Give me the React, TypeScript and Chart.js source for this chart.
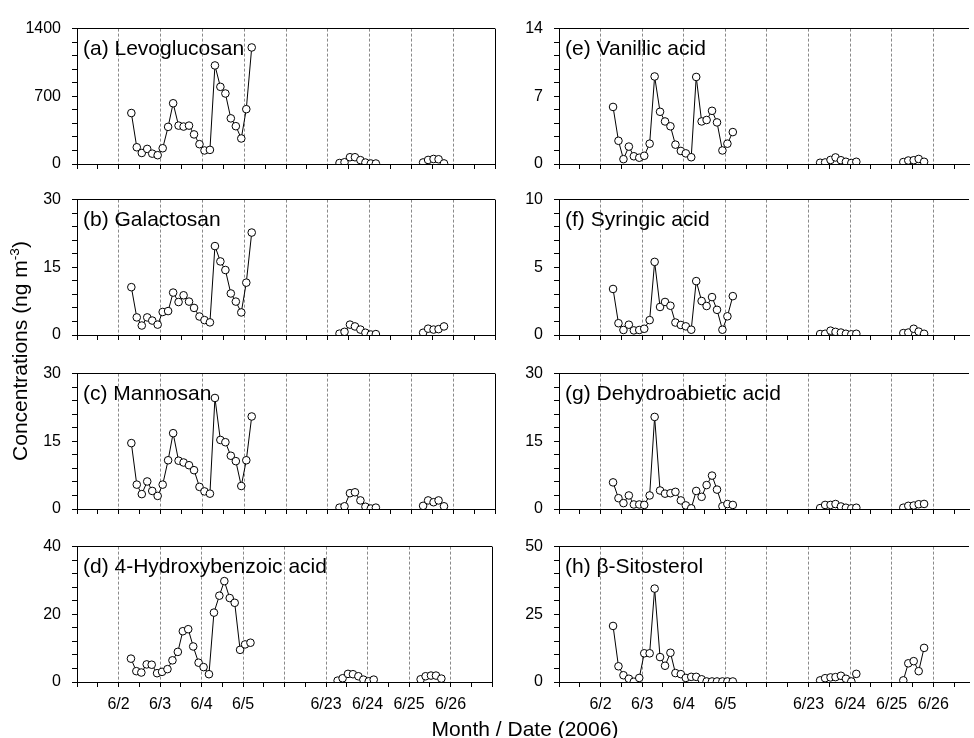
import React, { useEffect, useRef } from 'react';
import { Chart, registerables } from 'chart.js';

Chart.register(...registerables);

const FONT = "'Liberation Sans', Arial, Helvetica, sans-serif";

// Sampling times, in "day index" units (0 = 6/2, 1 = 6/3, 2 = 6/4, 3 = 6/5, 4 = break, 5 = 6/23 ... 8 = 6/26)
const sampleDays1 = [0.30, 0.43, 0.55, 0.68, 0.80, 0.93, 1.05, 1.18, 1.30, 1.43, 1.55, 1.68,
  1.80, 1.93, 2.05, 2.18, 2.30, 2.43, 2.55, 2.68, 2.80, 2.93, 3.05, 3.18];
const sampleDays2 = [5.28, 5.40, 5.53, 5.65, 5.78, 5.90, 6.03, 6.15];
const sampleDays3 = [7.28, 7.40, 7.53, 7.65, 7.78];

// x tick labels by day index
const dayTickValues = [0, 1, 2, 3, 5, 6, 7, 8];
const dayTickLabels = ['6/2', '6/3', '6/4', '6/5', '6/23', '6/24', '6/25', '6/26'];

// Series (24 + 8 + 5 values)
const levoglucosan = [527, 173, 114, 156, 107, 91, 163, 384, 628, 397, 387, 397, 306, 205, 140, 146, 1019, 798, 729, 472, 391, 264, 567, 1205,
  10, 18, 70, 70, 40, 15, 5, 5,
  16, 42, 52, 49, 6];
const galactosan = [10.6, 3.9, 2.1, 3.9, 3.2, 2.3, 5.1, 5.3, 9.4, 7.3, 8.8, 7.4, 6.0, 4.1, 3.3, 2.8, 19.7, 16.3, 14.4, 9.2, 7.4, 5.0, 11.6, 22.7,
  0.3, 0.7, 2.3, 1.9, 1.2, 0.5, 0.1, 0.2,
  0.5, 1.4, 1.2, 1.3, 1.9];
const mannosan = [14.6, 5.4, 3.3, 6.1, 4.0, 2.9, 5.4, 10.8, 16.8, 10.7, 10.3, 9.7, 8.6, 4.9, 3.9, 3.4, 24.6, 15.3, 14.8, 11.8, 10.6, 5.1, 10.8, 20.5,
  0.3, 0.6, 3.5, 3.7, 1.9, 0.5, 0.1, 0.3,
  0.7, 1.9, 1.5, 1.9, 0.6];
const hydroxybenzoic = [6.9, 3.2, 2.8, 5.2, 5.1, 2.6, 3.0, 3.8, 6.4, 8.9, 15.0, 15.6, 10.5, 5.7, 4.4, 2.3, 20.5, 25.5, 29.8, 24.8, 23.4, 9.5, 11.1, 11.6,
  0.4, 1.1, 2.4, 2.3, 1.7, 0.7, 0.2, 0.7,
  0.8, 1.7, 1.9, 1.9, 1.0];
const vanillic = [5.9, 2.4, 0.5, 1.8, 0.8, 0.65, 0.85, 2.1, 9.05, 5.4, 4.4, 3.9, 2.0, 1.35, 1.1, 0.7, 9.0, 4.4, 4.55, 5.5, 4.3, 1.4, 2.1, 3.3,
  0.13, 0.16, 0.42, 0.68, 0.39, 0.23, 0.1, 0.23,
  0.2, 0.36, 0.39, 0.52, 0.23];
const syringic = [3.4, 0.87, 0.37, 0.76, 0.34, 0.37, 0.46, 1.1, 5.4, 2.07, 2.44, 2.16, 0.92, 0.74, 0.64, 0.39, 3.98, 2.51, 2.14, 2.8, 1.86, 0.39, 1.38, 2.87,
  0.07, 0.09, 0.32, 0.23, 0.18, 0.09, 0.05, 0.09,
  0.14, 0.18, 0.46, 0.25, 0.09];
const dehydroabietic = [5.9, 2.4, 1.3, 3.0, 1.0, 1.0, 0.9, 3.0, 20.4, 4.1, 3.4, 3.5, 3.8, 1.9, 0.8, 0.15, 4.0, 2.7, 5.3, 7.4, 4.3, 0.6, 1.1, 0.9,
  0.2, 0.9, 0.9, 1.1, 0.56, 0.28, 0.14, 0.28,
  0.28, 0.7, 0.77, 1.05, 1.12];
const sitosterol = [20.7, 5.8, 2.5, 1.2, 0.1, 1.5, 10.6, 10.6, 34.5, 9.2, 6.0, 10.8, 3.3, 2.9, 1.5, 1.9, 1.9, 1.0, 0.2, 0.2, 0.2, 0.2, 0.2, 0.2,
  0.6, 1.4, 1.7, 1.8, 2.3, 1.2, 0.2, 3.0,
  0.6, 6.9, 7.7, 4.0, 12.6];

const panelLabels = ['(a) Levoglucosan', '(b) Galactosan', '(c) Mannosan', '(d) 4-Hydroxybenzoic acid',
  '(e) Vanillic acid', '(f) Syringic acid', '(g) Dehydroabietic acid', '(h) β-Sitosterol'];
const panelSeries = [levoglucosan, galactosan, mannosan, hydroxybenzoic, vanillic, syringic, dehydroabietic, sitosterol];
const panelYMax = [1400, 30, 30, 40, 14, 10, 30, 50];

// layout
const ROW_TOPS = [20, 191, 365, 538];
const PLOT_H = 144;
const PAD_TOP = 12;
const X_AXIS_H = 36;
const COLS = [
  { canvasLeft: 0, canvasWidth: 500, yAxisWidth: 77, padRight: 2, xMax: 9 },
  { canvasLeft: 487, canvasWidth: 487, yAxisWidth: 72, padRight: 0, xMax: 8.86 },
];

function buildPoints(values: number[]) {
  const pts: { x: number; y: number | null }[] = [];
  let k = 0;
  [sampleDays1, sampleDays2, sampleDays3].forEach((days, g) => {
    if (g > 0) pts.push({ x: days[0] - 0.5, y: null });
    days.forEach((d) => pts.push({ x: d, y: values[k++] }));
  });
  return pts;
}

function fmt(v: number) {
  return String(Math.round(v * 1000) / 1000);
}

type PanelProps = {
  label: string;
  values: number[];
  yMax: number;
  col: number;
  row: number;
};

function Panel({ label, values, yMax, col, row }: PanelProps) {
  const ref = useRef<HTMLCanvasElement | null>(null);
  const c = COLS[col];
  const top = ROW_TOPS[row] - PAD_TOP;
  const height = PAD_TOP + PLOT_H + X_AXIS_H;
  const showXLabels = row === 3;

  useEffect(() => {
    if (!ref.current) return;
    const labelPlugin = {
      id: 'panelLabel',
      beforeDatasetsDraw(chart: any) {
        const { ctx, chartArea } = chart;
        ctx.save();
        ctx.font = `21px ${FONT}`;
        ctx.fillStyle = '#000';
        ctx.textBaseline = 'alphabetic';
        ctx.textAlign = 'left';
        ctx.fillText(label, chartArea.left + 6, chartArea.top + 26);
        ctx.restore();
      },
    };
    const chart = new Chart(ref.current, {
      type: 'line',
      data: {
        datasets: [
          {
            data: buildPoints(values),
            borderColor: '#000',
            borderWidth: 1,
            pointRadius: 3.8,
            pointBackgroundColor: '#fff',
            pointBorderColor: '#000',
            pointBorderWidth: 1,
            spanGaps: false,
            tension: 0,
            fill: false,
          },
        ],
      },
      options: {
        animation: false,
        responsive: false,
        maintainAspectRatio: false,
        devicePixelRatio: 1,
        layout: { padding: { left: 0, right: c.padRight, top: PAD_TOP, bottom: 0 } },
        plugins: { legend: { display: false }, tooltip: { enabled: false }, title: { display: false } },
        scales: {
          x: {
            type: 'linear',
            min: -1,
            max: c.xMax,
            afterBuildTicks: (scale: any) => {
              const t: { value: number }[] = [];
              for (let v = -1; v <= c.xMax + 1e-9; v += 0.5) t.push({ value: v });
              scale.ticks = t;
            },
            afterFit: (scale: any) => {
              scale.height = X_AXIS_H;
            },
            ticks: {
              display: showXLabels,
              autoSkip: false,
              maxRotation: 0,
              minRotation: 0,
              color: '#000',
              padding: 8,
              font: { family: FONT, size: 16 },
              callback: (v: any) => {
                const i = dayTickValues.indexOf(Number(v));
                return i >= 0 ? dayTickLabels[i] : '';
              },
            },
            grid: {
              drawOnChartArea: true,
              drawTicks: true,
              tickLength: 5,
              tickColor: '#000',
              tickWidth: 1,
              lineWidth: 1,
              color: (ctx: any) => {
                const v = ctx.tick ? ctx.tick.value : NaN;
                if (Math.abs(v - 9) < 1e-6) return '#000';
                if (Number.isInteger(v) && v >= 0 && v <= 8) return '#8a8a8a';
                return 'rgba(0,0,0,0)';
              },
            },
            border: {
              display: true,
              color: '#000',
              width: 1,
              dash: (ctx: any) => {
                const v = ctx.tick ? ctx.tick.value : NaN;
                return Math.abs(v - 9) < 1e-6 ? [] : [3, 2];
              },
            },
          },
          y: {
            type: 'linear',
            min: 0,
            max: yMax,
            afterBuildTicks: (scale: any) => {
              const t: { value: number }[] = [];
              for (let i = 0; i <= 10; i++) t.push({ value: (yMax * i) / 10 });
              scale.ticks = t;
            },
            afterFit: (scale: any) => {
              scale.width = c.yAxisWidth;
            },
            ticks: {
              autoSkip: false,
              color: '#000',
              padding: 11,
              font: { family: FONT, size: 16 },
              callback: (v: any, i: number) => (i % 5 === 0 ? fmt(Number(v)) : ''),
            },
            grid: {
              drawOnChartArea: true,
              drawTicks: true,
              tickLength: 5,
              tickColor: '#000',
              tickWidth: 1,
              lineWidth: 1,
              color: (ctx: any) => (ctx.index === 10 ? '#000' : 'rgba(0,0,0,0)'),
            },
            border: { display: true, color: '#000', width: 1 },
          },
        },
      },
      plugins: [labelPlugin],
    } as any);
    return () => chart.destroy();
  }, [label, values, yMax, col, row]);

  return (
    <canvas
      ref={ref}
      width={c.canvasWidth}
      height={height}
      style={{ position: 'absolute', left: c.canvasLeft, top, width: c.canvasWidth, height }}
    />
  );
}

export default function App() {
  return (
    <div
      style={{
        position: 'absolute',
        left: 0,
        top: 0,
        width: 974,
        height: 738,
        overflow: 'hidden',
        background: '#fff',
        fontFamily: FONT,
        color: '#000',
      }}
    >
      {panelLabels.map((lab, i) => (
        <Panel key={i} label={lab} values={panelSeries[i]} yMax={panelYMax[i]} col={i < 4 ? 0 : 1} row={i % 4} />
      ))}
      <div
        style={{
          position: 'absolute',
          left: 20 - 200,
          top: 351 - 13,
          width: 400,
          height: 26,
          lineHeight: '26px',
          textAlign: 'center',
          fontSize: 21,
          transform: 'rotate(-90deg)',
          transformOrigin: '50% 50%',
          whiteSpace: 'nowrap',
        }}
      >
        Concentrations (ng m<sup style={{ fontSize: '0.65em', lineHeight: 0 }}>-3</sup>)
      </div>
      <div
        style={{
          position: 'absolute',
          left: 525 - 200,
          top: 729 - 13,
          width: 400,
          height: 26,
          lineHeight: '26px',
          textAlign: 'center',
          fontSize: 21,
          whiteSpace: 'nowrap',
        }}
      >
        Month / Date (2006)
      </div>
    </div>
  );
}
